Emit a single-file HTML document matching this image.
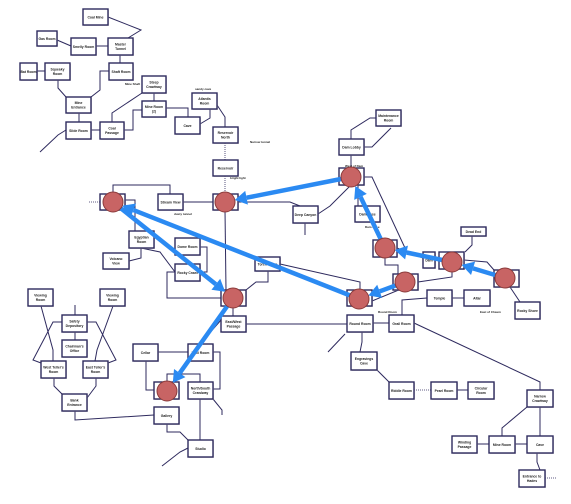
<!DOCTYPE html>
<html><head><meta charset="utf-8"><style>
html,body{margin:0;padding:0;background:#fff;width:571px;height:504px;overflow:hidden}
svg{display:block}
text{font-family:"Liberation Sans",sans-serif;font-weight:bold;fill:#222}
.r{fill:#fff;stroke:#2e2a5e;stroke-width:1.4}
.l{fill:none;stroke:#2e2a5e;stroke-width:1}
.d{fill:none;stroke:#2e2a5e;stroke-width:0.8;stroke-dasharray:1 1}
.c{fill:#c86464;stroke:#8a3a3a;stroke-width:1}
.a{stroke:#2b8af2;stroke-width:4.5;fill:none}
</style></head><body>
<svg id="map" width="571" height="504" viewBox="0 0 571 504" xmlns="http://www.w3.org/2000/svg">
<g id="lines"></g>
<g id="rooms"></g>
<g id="arrows"></g>
<g id="circles"></g>
</svg>
<script>
const roomNames=["Coal Mine","Gas Room","Smelly Room","Master Tunnel","Bat Room","Squeaky Room","Shaft Room","Mine Entrance","Slide Room","Coal Passage","Steep Crawlway","Mine Room (2)","Cave","Atlantis Room","Reservoir North","Reservoir","","Stream View","","Maintenance Room","Dam Lobby","","Deep Canyon","Dam Base","","Dam","","Dead End","","Rocky Shore","","","Temple","Altar","Round Room","Grail Room","Engravings Cave","Riddle Room","Pearl Room","Circular Room","Narrow Crawlway","Winding Passage","Mine Room","Cave","Entrance to Hades","Volcano View","Egyptian Room","Dome Room","Rocky Crawl","","East/West Passage","Viewing Room","Viewing Room","Safety Depository","Chairman's Office","West Teller's Room","East Teller's Room","Bank Entrance","Cellar","Troll Room","","North/South Crawlway","Gallery","Studio","Torch Room"];
const roomBoxes=[[83,9,25,16],[37,31,20,15],[71,38,25,17],[108,38,25,17],[20,63,17,17],[45,63,25,17],[109,63,24,17],[66,97,25,16],[66,122,25,17],[100,122,24,17],[142,76,24,17],[142,101,24,16],[175,117,25,17],[192,93,25,16],[213,127,25,16],[213,160,25,16],[100,194,25,16],[158,194,25,16],[213,194,25,16],[376,110,25,16],[339,139,25,16],[339,168,25,17],[293,206,25,17],[355,206,25,16],[373,240,24,17],[423,252,12,16],[439,252,25,17],[461,227,25,9],[494,270,25,17],[515,302,25,17],[393,274,25,16],[347,290,25,16],[427,290,25,16],[464,290,26,16],[347,315,26,17],[389,315,25,17],[351,352,26,18],[389,382,25,17],[431,382,26,17],[468,382,26,17],[527,390,26,17],[452,436,25,17],[489,436,26,17],[527,436,26,17],[519,470,26,17],[103,253,26,16],[129,231,25,17],[175,238,25,17],[175,264,25,17],[221,290,25,16],[221,316,25,16],[28,289,25,17],[100,289,25,17],[62,315,25,17],[62,340,25,17],[41,361,25,17],[83,361,25,17],[62,394,25,17],[133,344,25,17],[188,344,25,17],[154,382,25,17],[188,382,25,17],[154,407,25,17],[188,440,25,17],[255,257,25,14]];
const paths=[[108,17,141,30,128,38],[57,40,71,46],[96,46,108,46],[120,55,120,63],[37,71,45,71],[58,80,58,88,66,97],[109,71,100,71,100,90,91,97],[79,113,79,122],[91,130,100,130],[112,122,112,113,142,93],[124,130,133,130,133,110,142,110],[154,93,154,101],[166,108,188,108,188,117],[200,124,210,118,210,109],[217,105,225,117,225,127],[66,130,58,135,40,152],[113,194,113,185,170,185,170,194],[183,202,213,202],[125,200,135,200,135,231],[141,248,141,258,129,261],[200,247,207,247,207,272,200,272],[175,272,167,272,167,298,221,298],[141,248,160,252,175,272],[225,210,226,290],[238,202,290,202,300,206],[318,214,330,206,351,185],[305,223,305,235],[246,290,256,282,268,282,268,271],[280,264,360,282,360,290],[246,324,347,324],[373,323,389,323],[362,332,362,342,360,352],[345,334,328,352],[402,315,402,300,427,298],[452,298,464,298],[414,323,540,382,540,390],[377,370,389,382],[457,390,468,390],[527,407,502,428,502,436],[540,407,540,436],[477,444,489,444],[515,444,527,444],[537,453,537,462,540,470],[372,301,418,282,452,277,452,269],[472,236,472,245,465,252],[464,260,487,262,494,270],[510,287,520,302],[351,139,351,130,370,118,376,118],[364,147,372,147,391,128],[351,155,351,168],[364,177,372,177,405,248],[358,185,358,206],[385,257,385,265,398,265,398,274],[397,248,423,258],[435,260,439,260],[41,306,53,350,53,361],[113,306,97,350,95,361],[62,322,53,322,33,360,41,363],[87,322,96,322,116,360,108,363],[75,332,75,340],[54,378,54,386,62,394],[96,378,96,386,87,398],[75,411,75,420,154,415],[75,315,75,305],[158,352,188,352],[146,361,146,390,154,390],[213,352,220,352,220,389,213,389],[167,382,167,374,200,374,200,382],[200,399,200,440],[213,399,222,410,222,415],[167,424,167,432,180,432,188,440],[188,448,180,452,162,466],[233,306,233,316],[221,320,200,344]];
const dotted=[[225,143,225,160],[225,176,225,194],[414,390,431,390],[545,478,556,478],[100,202,88,202]];
const markers=[[113,202],[225,202],[351,177],[385,248],[452,262],[505,278],[405,282],[359,299],[233,298],[167,391]];
const routeFrom=[2,0,7,8,6,3,4,5];
const routeTo=[1,8,0,9,7,2,3,4];
const notes=[["bright light",230,179],["West of Dam",345,167],["Dam Base",365,228],["Round Room",378,313],["Mine Shaft",125,85],["East of Chasm",480,313],["dusty tunnel",174,215],["Narrow tunnel",250,143],["sandy cave",195,90]];

const NS="http://www.w3.org/2000/svg";
const gL=document.getElementById('lines'),gR=document.getElementById('rooms'),gA=document.getElementById('arrows'),gC=document.getElementById('circles');
function mk(t,a,p){const e=document.createElementNS(NS,t);for(const k in a)e.setAttribute(k,a[k]);p.appendChild(e);return e;}
paths.forEach(p=>{const pts=[];for(let i=0;i<p.length;i+=2)pts.push(p[i]+','+p[i+1]);
 const e=mk('polyline',{points:pts.join(' '),class:'l'},gL);
 
 });
dotted.forEach(p=>{const e=mk('line',{x1:p[0],y1:p[1],x2:p[2],y2:p[3],class:'d'},gL);
 
 });
roomBoxes.forEach((b,i)=>{const g=mk('g',{},gR);
 
 
 mk('rect',{x:b[0]+0.8,y:b[1]+0.8,width:b[2],height:b[3],fill:'#bbb'},g);
 mk('rect',{x:b[0],y:b[1],width:b[2],height:b[3],class:'r'},g);
 const words=roomNames[i].split(' ');let lines=[roomNames[i]];
 if(roomNames[i].length>11&&words.length>1){const h=Math.ceil(words.length/2);lines=[words.slice(0,h).join(' '),words.slice(h).join(' ')];}
 lines.forEach((s,j)=>{const t=mk('text',{x:b[0]+b[2]/2,y:b[1]+b[3]/2+1.3+(j-(lines.length-1)/2)*4.2,'font-size':3.4,'text-anchor':'middle'},g);t.textContent=s;});});
notes.forEach(n=>{const t=mk('text',{x:n[1],y:n[2],'font-size':3,'font-weight':'normal'},gR);t.textContent=n[0];
 
 });
routeFrom.forEach((f,i)=>{const a=markers[f],b=markers[routeTo[i]];const dx=b[0]-a[0],dy=b[1]-a[1],L=Math.hypot(dx,dy),ux=dx/L,uy=dy/L;
 const ex=b[0]-ux*10,ey=b[1]-uy*10,hx=ex-ux*12,hy=ey-uy*12,px=-uy,py=ux;
 const g=mk('g',{},gA);
 
 
 mk('line',{x1:a[0],y1:a[1],x2:hx,y2:hy,class:'a'},g);
 mk('polygon',{points:`${ex},${ey} ${hx+px*7},${hy+py*7} ${hx-px*7},${hy-py*7}`,fill:'#2b8af2'},g);});
markers.forEach(m=>{const c=mk('circle',{cx:m[0],cy:m[1],r:10,class:'c'},gC);
 
 });
</script>
</body></html>
